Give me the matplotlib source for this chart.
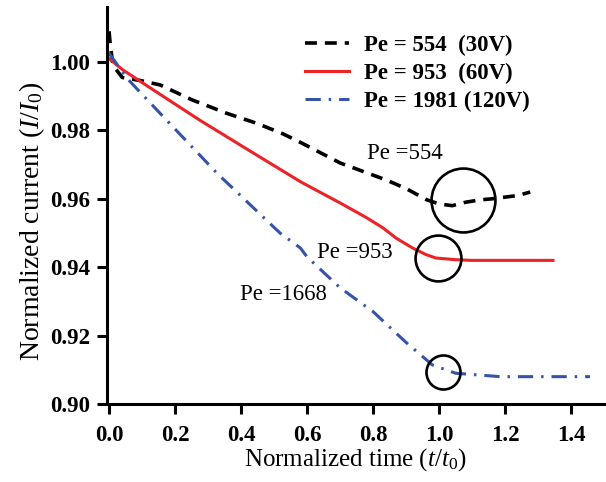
import matplotlib
matplotlib.use("Agg")
import matplotlib.pyplot as plt

plt.rcParams['font.family'] = ['Liberation Serif', 'DejaVu Serif']
plt.rcParams['mathtext.fontset'] = 'custom'
plt.rcParams['mathtext.it'] = 'Liberation Serif:italic'
plt.rcParams['mathtext.rm'] = 'Liberation Serif'

black_x = [0.0, 0.004, 0.012, 0.04, 0.1, 0.155, 0.25, 0.357, 0.45, 0.527, 0.58, 0.64, 0.70,
           0.77, 0.84, 0.90, 0.963, 1.0, 1.04, 1.08, 1.124, 1.16, 1.2, 1.24, 1.276]
black_y = [1.009, 1.005, 0.999, 0.9955, 0.9945, 0.9933, 0.989, 0.985, 0.982, 0.979, 0.9765, 0.9735, 0.9705,
           0.968, 0.9655, 0.963, 0.9597, 0.9585, 0.958, 0.959, 0.9597, 0.960, 0.9605, 0.961, 0.962]

red_x = [0.0, 0.042, 0.135, 0.275, 0.427, 0.58, 0.70, 0.78, 0.83, 0.87, 0.92, 0.96, 0.99, 1.05, 1.10, 1.2, 1.345]
red_y = [1.001, 0.9977, 0.9918, 0.983, 0.974, 0.965, 0.9588, 0.9545, 0.9515, 0.9485, 0.9456, 0.9437, 0.9427,
         0.9422, 0.942, 0.942, 0.942]

blue_x = [0.0, 0.054, 0.145, 0.327, 0.518, 0.58, 0.6, 0.70, 0.80, 0.90, 0.98, 1.05, 1.185, 1.3, 1.457]
blue_y = [1.0026, 0.9953, 0.986, 0.9675, 0.950, 0.9456, 0.943, 0.934, 0.927, 0.918, 0.9114, 0.909,
          0.908, 0.908, 0.908]

legend_labels = ["Pe = 554  (30V)", "Pe = 953  (60V)", "Pe = 1981 (120V)"]

circle_x = [1.073, 0.997, 1.012]
circle_y = [0.9597, 0.9427, 0.9094]
circle_sizes = [46, 33, 24.5]

annot_text = ["Pe =554", "Pe =953", "Pe =1668"]
annot_x = [0.782, 0.63, 0.397]
annot_y = [0.9734, 0.9442, 0.9319]

xticks = [0.0, 0.2, 0.4, 0.6, 0.8, 1.0, 1.2, 1.4]
yticks = [0.90, 0.92, 0.94, 0.96, 0.98, 1.00]

fig = plt.figure(figsize=(6.06, 4.82), dpi=100)
ax = fig.add_axes([0.1766, 0.1618, 0.8204, 0.8237])

ax.plot(black_x, black_y, color='black', lw=2.6, ls=(0, (3.3, 2.2)), label=legend_labels[0])
ax.plot(red_x, red_y, color='#ec2227', lw=2.2, ls='-', label=legend_labels[1])
ax.plot(blue_x, blue_y, color='#3554a6', lw=2.2, ls=(0, (5, 2.6, 0.8, 2.6)), label=legend_labels[2])

for cx, cy, s in zip(circle_x, circle_y, circle_sizes):
    ax.plot([cx], [cy], marker='o', ms=s, mfc='none', mec='black', mew=1.9, ls='none')

for t, tx, ty in zip(annot_text, annot_x, annot_y):
    ax.text(tx, ty, t, fontsize=16.4, va='center', ha='left')

ax.set_xlim(-0.006, 1.5)
ax.set_ylim(0.90, 1.0161)
ax.set_xticks(xticks)
ax.set_yticks(yticks)
ax.set_xticklabels([f"{v:.1f}" for v in xticks])
ax.set_yticklabels([f"{v:.2f}" for v in yticks])
for lab in ax.get_xticklabels() + ax.get_yticklabels():
    lab.set_fontweight('bold')

for s in ['top', 'right']:
    ax.spines[s].set_visible(False)
for s in ['left', 'bottom']:
    ax.spines[s].set_linewidth(2.2)
ax.tick_params(direction='out', length=7, width=2.2, labelsize=16.5)
ax.tick_params(axis='x', pad=8)
ax.tick_params(axis='y', pad=5)

ax.set_xlabel(r"Normalized time ($t$/$t_0$)", fontsize=18, labelpad=0)
ax.set_ylabel(r"Normalized current ($I$/$I_0$)", fontsize=20)
ax.yaxis.set_label_coords(-0.12, 0.46)

leg = ax.legend(loc='upper left', bbox_to_anchor=(0.365, 0.97), frameon=False,
                prop={'size': 16.5, 'weight': 'bold'}, handlelength=1.95, handletextpad=0.65,
                labelspacing=0.3, borderaxespad=0.3)

fig.savefig("out.png", dpi=100)
